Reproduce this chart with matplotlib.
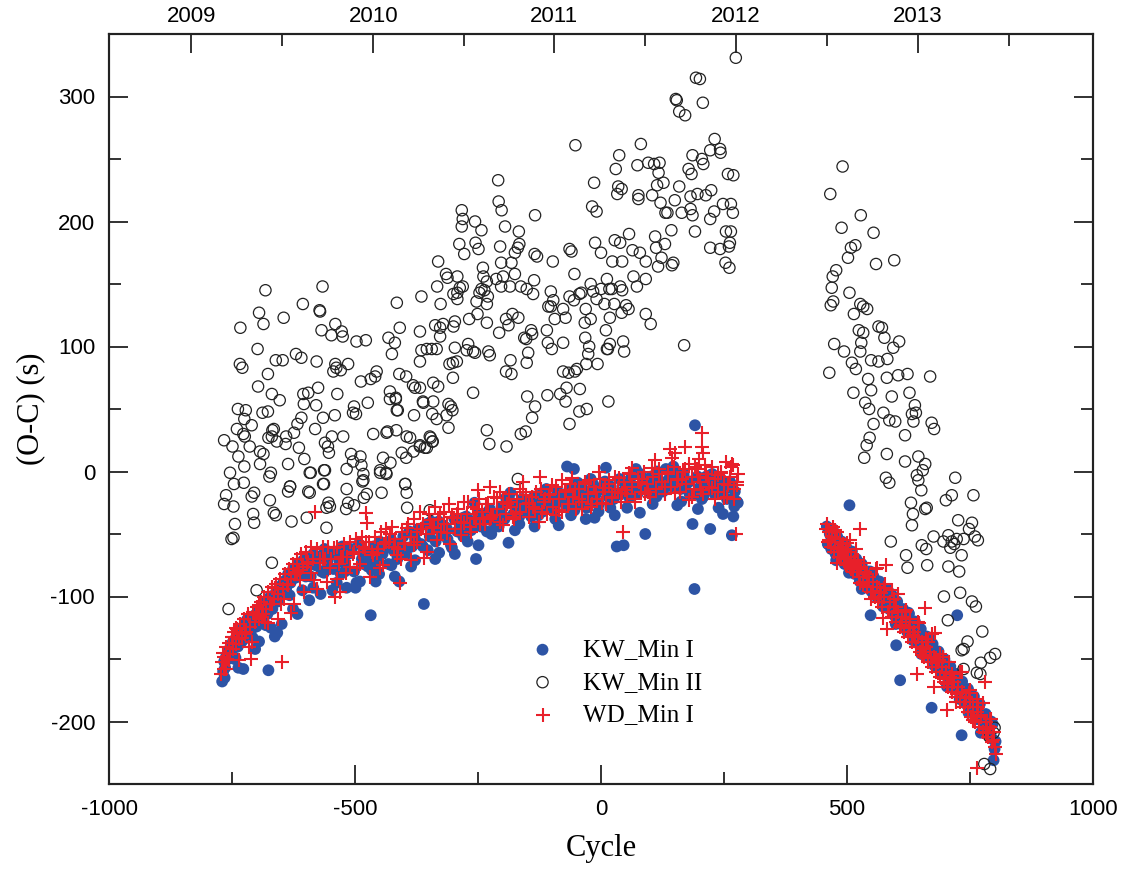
import numpy as np
import matplotlib
matplotlib.use("Agg")
import matplotlib.pyplot as plt
from matplotlib.ticker import MultipleLocator

plt.rcParams["axes.unicode_minus"] = False

# KW_Min I (filled blue dots), pairs of (cycle, O-C in s)
kw1_left = [
    (-770, -168), (-768, -160), (-766, -152), (-764, -157), (-762, -148), (-758, -150), (-755, -142),
    (-752, -146), (-748, -138), (-745, -150), (-742, -133), (-738, -140), (-735, -128), (-730, -136),
    (-727, -124), (-724, -131), (-720, -119), (-716, -128), (-712, -122), (-708, -133), (-704, -115),
    (-700, -124), (-697, -112), (-693, -118), (-690, -109), (-686, -121), (-682, -104), (-678, -114),
    (-676, -159), (-672, -100), (-668, -110), (-663, -132), (-660, -96), (-657, -104), (-653, -92),
    (-649, -99), (-645, -88), (-640, -94), (-636, -82), (-631, -89), (-626, -78), (-621, -85),
    (-616, -74), (-611, -81), (-605, -71), (-600, -78), (-595, -70), (-590, -84), (-585, -66),
    (-580, -75), (-574, -68), (-568, -80), (-562, -62), (-556, -72), (-550, -66), (-544, -78),
    (-538, -64), (-532, -71), (-526, -60), (-520, -74), (-517, -93), (-514, -66), (-508, -62),
    (-502, -80), (-497, -89), (-492, -58), (-486, -70), (-480, -64), (-474, -76), (-468, -115),
    (-462, -60), (-456, -72), (-450, -56), (-444, -66), (-438, -60), (-432, -74), (-426, -55),
    (-420, -64), (-414, -70), (-408, -58), (-402, -52), (-396, -66), (-390, -48), (-384, -60),
    (-378, -54), (-372, -46), (-366, -58), (-360, -106), (-354, -42), (-348, -52), (-342, -46),
    (-336, -56), (-330, -40), (-324, -50), (-318, -44), (-312, -54), (-303, -61), (-298, -38),
    (-292, -48), (-286, -42), (-280, -52), (-274, -36), (-268, -46), (-262, -40), (-254, -70),
    (-250, -34), (-244, -44), (-238, -38), (-232, -48), (-226, -30), (-220, -40), (-214, -34),
    (-208, -44), (-202, -28), (-196, -38), (-188, -57), (-184, -24), (-178, -34), (-172, -28),
    (-166, -36), (-160, -22), (-154, -30), (-148, -26), (-142, -36), (-136, -20), (-130, -28),
    (-124, -24), (-118, -32), (-112, -18), (-106, -26), (-100, -22), (-94, -30), (-88, -16),
    (-82, -24), (-76, -20), (-70, -28), (-69, 4), (-64, -14), (-58, -22), (-55, 2), (-52, -18),
    (-46, -26), (-40, -12), (-34, -20), (-31, -38), (-28, -16), (-22, -24), (-16, -10), (-10, -18),
    (-4, -26), (2, -14), (8, -8), (10, 3), (14, -20), (20, -12), (26, -22), (32, -60), (38, -6),
    (44, -16), (46, -59), (50, -10), (56, -20), (62, -4), (68, -12), (74, -18), (80, -2), (86, -10),
    (90, -50), (96, -16), (102, -4), (108, -12), (114, 0), (120, -8), (126, -16), (132, 2),
    (138, -6), (144, -12), (150, 0), (156, -8), (162, -14), (168, -2), (174, -10), (180, -18),
    (186, -42), (190, -94), (191, 37), (196, -4), (202, -12), (208, -20), (214, -6), (220, -14),
    (222, -46), (226, -2), (232, -10), (238, -18), (244, -6), (250, -14), (256, -22), (262, -8),
    (266, -51), (269, -36), (272, -16), (276, -24),
]
kw1_left_more = [
    (-765, -165), (-749, -137), (-737, -157), (-719, -133), (-703, -142), (-691, -112), (-671, -125),
    (-658, -129), (-641, -98), (-626, -110), (-607, -95), (-593, -103), (-577, -69), (-563, -81),
    (-546, -95), (-529, -82), (-515, -66), (-499, -93), (-483, -74), (-466, -79), (-451, -82),
    (-433, -60), (-419, -84), (-401, -65), (-386, -76), (-371, -47), (-352, -63), (-337, -70),
    (-321, -43), (-305, -59), (-289, -47), (-271, -56), (-257, -25), (-241, -37), (-223, -50),
    (-207, -37), (-193, -21), (-175, -47), (-158, -28), (-144, -33), (-127, -35), (-111, -14),
    (-93, -38), (-79, -21), (-61, -35), (-47, -9), (-29, -29), (-13, -37), (5, -12), (19, -29),
    (37, -18), (53, -29), (71, 2), (87, -11), (105, -26), (121, -13), (139, 1), (155, -27),
    (171, -11), (189, -18), (205, -22), (223, -3), (239, -29), (257, -13), (271, -28),
    (-759, -146), (-743, -149), (-727, -158), (-711, -127), (-695, -136), (-681, -123), (-664, -100),
    (-649, -122), (-633, -99), (-617, -114), (-600, -84), (-585, -93), (-570, -98), (-554, -77),
    (-537, -89), (-521, -80), (-507, -63), (-490, -88), (-474, -71), (-458, -88), (-442, -63),
    (-426, -75), (-410, -88), (-394, -61), (-378, -71), (-362, -60), (-345, -40), (-329, -65),
    (-313, -46), (-297, -66), (-280, -37), (-264, -47), (-249, -59), (-232, -33), (-215, -44),
    (-200, -35), (-184, -17), (-166, -42), (-151, -25), (-135, -44), (-119, -17), (-102, -29),
    (-86, -43), (-70, -18), (-54, -31), (-38, -23), (-21, -6), (-5, -32), (12, -15), (28, -35),
    (45, -8), (62, -20), (79, -33), (96, -7), (113, -20), (130, -12), (147, 4), (163, -24),
    (180, -8), (197, -30), (214, -4), (231, -18), (248, -34), (264, -10), (278, -25),
]
kw1_right = [
    (459, -44), (462, -58), (465, -50), (468, -62), (471, -46), (474, -55), (477, -66), (480, -52),
    (483, -60), (486, -70), (489, -56), (492, -64), (495, -74), (498, -60), (501, -68), (505, -27),
    (507, -78), (510, -64), (513, -72), (516, -82), (519, -70), (522, -78), (526, -88), (530, -74),
    (534, -84), (538, -92), (542, -80), (546, -88), (548, -115), (550, -96), (554, -84), (558, -92),
    (562, -100), (566, -88), (570, -98), (574, -106), (578, -94), (582, -102), (586, -110),
    (590, -98), (594, -108), (598, -116), (600, -139), (602, -104), (606, -112), (608, -167),
    (610, -122), (614, -110), (618, -120), (622, -128), (626, -114), (630, -124), (634, -132),
    (638, -120), (642, -130), (646, -138), (650, -126), (654, -136), (658, -144), (662, -132),
    (666, -142), (670, -150), (672, -189), (674, -138), (678, -148), (682, -156), (686, -144),
    (690, -154), (694, -162), (698, -150), (702, -160), (706, -168), (710, -156), (714, -166),
    (718, -174), (722, -162), (724, -115), (726, -172), (730, -180), (733, -211), (734, -168),
    (738, -178), (742, -186), (746, -174), (750, -184), (754, -192), (758, -180), (762, -190),
    (766, -198), (770, -186), (774, -196), (778, -204), (782, -194), (786, -204), (790, -212),
    (793, -200), (796, -214), (798, -231), (800, -222), (802, -216),
]
kw1_right_more = [
    (461, -58), (469, -49), (478, -71), (487, -65), (495, -58), (504, -81), (513, -79), (521, -74),
    (530, -94), (539, -87), (547, -80), (556, -99), (565, -94), (573, -108), (582, -94), (591, -111),
    (599, -122), (608, -111), (617, -123), (625, -113), (634, -135), (643, -126), (651, -146),
    (660, -139), (669, -133), (677, -155), (686, -155), (695, -151), (703, -172), (712, -167),
    (721, -162), (729, -182), (738, -177), (747, -193), (755, -180), (764, -198), (772, -209),
    (781, -198), (789, -209), (796, -202),
]

# KW_Min II (open circles)
kw2_left = [
    (274, 331), (193, 315), (201, 314), (154, 297), (152, 298), (207, 295), (159, 288), (171, 285),
    (-52, 261), (81, 262), (231, 266), (37, 253), (30, 242), (74, 245), (96, 247), (108, 246),
    (119, 247), (186, 253), (205, 250), (208, 246), (222, 257), (242, 258), (243, 255), (178, 242),
    (184, 238), (258, 238), (269, 237), (-209, 233), (-14, 231), (35, 228), (42, 226), (33, 222),
    (117, 239), (127, 231), (114, 229), (159, 228), (76, 221), (76, 218), (104, 221), (150, 217),
    (121, 215), (131, 207), (135, 207), (182, 220), (196, 222), (213, 221), (224, 225), (248, 214),
    (264, 214), (268, 207), (230, 208), (222, 202), (182, 210), (186, 205), (164, 207), (-18, 212),
    (-9, 208), (-283, 209), (-281, 202), (-283, 196), (-256, 200), (-243, 193), (-208, 216),
    (-202, 209), (-195, 196), (-134, 205), (-167, 192), (143, 193), (110, 188), (130, 182),
    (112, 179), (123, 171), (116, 164), (147, 167), (144, 165), (191, 192), (254, 192), (264, 192),
    (262, 183), (260, 180), (222, 179), (242, 178), (253, 167), (261, 163), (-288, 182), (-278, 174),
    (-255, 183), (-249, 178), (-205, 180), (-203, 167), (-182, 167), (-175, 158), (-166, 182),
    (-169, 179), (-175, 175), (-135, 174), (-130, 172), (-98, 168), (-64, 178), (-60, 176),
    (-12, 183), (0, 175), (23, 168), (43, 168), (28, 185), (39, 183), (57, 190), (64, 177),
    (79, 175), (91, 168), (-331, 168), (-315, 158), (-312, 155), (-292, 156), (-333, 148),
    (-240, 163), (-239, 156), (-232, 152), (-213, 154), (-199, 156), (-203, 148), (-185, 148),
    (-287, 147), (-281, 148), (-292, 143), (-300, 142), (-326, 134), (-292, 138), (-243, 146),
    (-237, 145), (-247, 143), (-230, 140), (-232, 134), (-253, 136), (-163, 148), (-151, 146),
    (-138, 142), (-136, 153), (-102, 144), (-97, 137), (-102, 132), (-64, 140), (-55, 137),
    (-44, 142), (-40, 143), (-54, 158), (-21, 150), (-16, 144), (0, 146), (12, 154), (17, 146),
    (22, 146), (27, 134), (39, 148), (43, 145), (66, 156), (73, 148), (91, 154), (51, 133),
    (56, 130), (42, 127), (7, 134), (-9, 138), (-31, 130), (-21, 122), (18, 123), (10, 113),
    (14, 98), (-77, 130), (-72, 123), (-94, 122), (-110, 113), (-108, 103), (-100, 98), (-77, 103),
    (-107, 132), (-33, 119), (-32, 107), (-24, 100), (-26, 94), (-30, 86), (-7, 86), (12, 98),
    (18, 102), (45, 104), (47, 96), (91, 126), (101, 118), (169, 101), (15, 56), (-77, 80),
    (-66, 79), (-53, 80), (-49, 82), (-83, 62), (-70, 67), (-43, 66), (-72, 56), (-109, 61),
    (-44, 48), (-29, 50), (-64, 38), (-150, 60), (-134, 52), (-140, 43), (-163, 30), (-153, 32),
    (-192, 20), (-227, 22), (-232, 33), (-260, 63), (-301, 75), (-341, 71), (-331, 68), (-368, 67),
    (-341, 56), (-361, 55), (-310, 54), (-305, 52), (-302, 49), (-314, 45), (-343, 46), (-334, 42),
    (-310, 35), (-348, 28), (-343, 24), (-358, 19), (-368, 21), (-193, 80), (-182, 78), (-184, 89),
    (-151, 87), (-148, 95), (-152, 106), (-156, 107), (-142, 113), (-140, 110), (-168, 123),
    (-180, 126), (-193, 122), (-188, 117), (-207, 111), (-232, 119), (-251, 126), (-268, 122),
    (-270, 102), (-273, 97), (-260, 96), (-256, 95), (-229, 96), (-226, 93), (-297, 99), (-301, 87),
    (-308, 86), (-293, 88), (-334, 98), (-344, 98), (-354, 98), (-365, 97), (-368, 88), (-337, 117),
    (-321, 118), (-327, 115), (-300, 116), (-297, 120), (-327, 108), (-368, 112), (-365, 140),
    (-682, 145), (-566, 148), (-606, 134), (-572, 129), (-571, 128), (-695, 127), (-686, 118),
    (-645, 123), (-733, 115), (-568, 113), (-548, 109), (-540, 118), (-527, 112), (-525, 108),
    (-497, 104), (-478, 105), (-415, 135), (-409, 115), (-419, 103), (-425, 94), (-432, 107),
    (-698, 98), (-734, 86), (-729, 83), (-677, 78), (-661, 89), (-647, 89), (-620, 94), (-609, 91),
    (-578, 88), (-540, 86), (-538, 83), (-544, 80), (-529, 81), (-514, 86), (-456, 80), (-459, 76),
    (-468, 74), (-488, 72), (-474, 55), (-410, 78), (-396, 76), (-429, 64), (-417, 59), (-415, 49),
    (-382, 69), (-378, 67), (-362, 56), (-697, 68), (-669, 62), (-653, 57), (-738, 50), (-722, 49),
    (-725, 42), (-710, 37), (-740, 34), (-688, 47), (-677, 48), (-766, 25), (-749, 20), (-737, 12),
    (-754, -1), (-746, -10), (-725, 4), (-726, -9), (-727, 30), (-724, 28), (-714, 20), (-693, 16),
    (-686, 14), (-676, 27), (-668, 33), (-665, 34), (-669, 28), (-693, 6), (-671, -1), (-674, -4),
    (-640, 28), (-641, 22), (-659, 24), (-624, 31), (-617, 38), (-609, 43), (-614, 19), (-636, 6),
    (-603, 10), (-590, -1), (-632, -12), (-605, 62), (-595, 63), (-579, 53), (-575, 67), (-604, 54),
    (-581, 34), (-565, 43), (-561, 23), (-553, 15), (-555, 20), (-547, 28), (-524, 28), (-541, 45),
    (-536, 62), (-502, 52), (-498, 46), (-504, 47), (-563, 1), (-563, -10), (-517, 2), (-508, 14),
    (-489, 12), (-487, 5), (-483, -7), (-504, 8), (-463, 30), (-443, 11), (-449, 1), (-437, -1),
    (-428, 7), (-434, 32), (-436, 31), (-416, 33), (-429, 58), (-417, 58), (-405, 15), (-396, 11),
    (-398, -10), (-413, 49), (-395, 28), (-388, 27), (-380, 45), (-381, 16), (-368, 20), (-354, 19),
    (-346, 27), (-342, 24), (-669, -73), (-700, -95), (-757, -110), (-747, -53), (-751, -54),
    (-744, -42), (-762, -19), (-766, -26), (-747, -28), (-707, -34), (-705, -41), (-673, -23),
    (-665, -33), (-661, -35), (-629, -40), (-598, -37), (-558, -45), (-710, -20), (-705, -17),
    (-636, -16), (-632, -12), (-592, -17), (-595, -16), (-565, -10), (-561, 1), (-592, -1),
    (-517, -14), (-514, -25), (-518, -30), (-502, -27), (-482, -21), (-476, -18), (-485, -8),
    (-483, -2), (-446, -17), (-449, -1), (-436, -2), (-398, -10), (-395, -17), (-394, -29),
    (-348, -31), (-554, -25), (-551, -28), (-558, -29), (-169, -6),
]
kw2_right = [
    (491, 244), (466, 222), (528, 205), (489, 195), (554, 191), (508, 179), (517, 181), (502, 171),
    (559, 166), (596, 169), (478, 161), (471, 156), (469, 147), (472, 136), (467, 133), (505, 143),
    (527, 134), (533, 132), (541, 130), (514, 126), (564, 116), (571, 115), (576, 107), (524, 113),
    (533, 111), (529, 103), (527, 96), (474, 102), (494, 96), (606, 104), (594, 99), (582, 90),
    (564, 88), (549, 89), (510, 87), (518, 82), (464, 79), (543, 74), (581, 75), (604, 77),
    (623, 78), (669, 76), (513, 63), (549, 65), (591, 60), (627, 63), (537, 55), (545, 50),
    (574, 47), (586, 41), (598, 40), (554, 38), (638, 53), (632, 46), (640, 47), (635, 40),
    (618, 29), (672, 39), (677, 34), (546, 27), (540, 21), (535, 11), (581, 14), (618, 8),
    (645, 12), (659, 6), (654, 1), (642, -3), (645, -7), (651, -15), (579, -5), (586, -9),
    (630, -25), (634, -34), (632, -43), (662, -29), (659, -30), (701, -23), (713, -19), (757, -19),
    (720, -5), (589, -56), (620, -67), (623, -77), (652, -59), (661, -62), (663, -75), (676, -52),
    (696, -56), (706, -51), (713, -56), (723, -54), (710, -61), (718, -58), (726, -39), (737, -54),
    (754, -41), (748, -46), (760, -52), (766, -55), (733, -67), (728, -80), (706, -76), (697, -100),
    (730, -97), (754, -104), (762, -108), (705, -119), (775, -128), (745, -136), (737, -142),
    (733, -143), (772, -153), (791, -149), (801, -146), (764, -161), (771, -162), (737, -158),
    (800, -205), (798, -209), (789, -212), (779, -234), (791, -238),
]

# WD_Min I (red plus)
wd_left = [
    (-772, -162), (-770, -152), (-768, -145), (-766, -158), (-763, -140), (-760, -150), (-757, -137),
    (-754, -146), (-751, -132), (-748, -142), (-745, -128), (-742, -138), (-739, -126), (-736, -134),
    (-733, -122), (-730, -130), (-726, -118), (-722, -128), (-718, -114), (-714, -124), (-711, -150),
    (-708, -112), (-704, -120), (-700, -108), (-696, -118), (-692, -104), (-688, -114), (-684, -100),
    (-680, -110), (-676, -96), (-672, -106), (-668, -92), (-664, -102), (-660, -90), (-656, -98),
    (-652, -86), (-649, -152), (-646, -94), (-642, -82), (-638, -90), (-634, -78), (-630, -86),
    (-626, -74), (-622, -82), (-618, -70), (-614, -79), (-610, -66), (-605, -76), (-600, -64),
    (-595, -72), (-590, -60), (-585, -70), (-581, -32), (-578, -62), (-572, -70), (-566, -60),
    (-560, -70), (-554, -60), (-548, -70), (-541, -100), (-536, -60), (-531, -96), (-528, -68),
    (-522, -58), (-516, -68), (-510, -56), (-504, -66), (-498, -54), (-492, -64), (-486, -52),
    (-480, -62), (-478, -33), (-476, -41), (-472, -56), (-466, -64), (-460, -52), (-454, -62),
    (-448, -48), (-442, -58), (-436, -46), (-430, -56), (-424, -44), (-418, -54), (-412, -62),
    (-409, -89), (-404, -48), (-398, -58), (-392, -42), (-386, -52), (-380, -38), (-374, -48),
    (-368, -32), (-362, -42), (-356, -50), (-350, -34), (-344, -44), (-338, -28), (-332, -38),
    (-326, -48), (-320, -32), (-314, -42), (-308, -26), (-302, -36), (-296, -46), (-290, -30),
    (-284, -40), (-278, -24), (-272, -34), (-266, -44), (-260, -28), (-254, -38), (-251, -15),
    (-248, -22), (-242, -32), (-236, -42), (-230, -26), (-226, -12), (-224, -36), (-218, -20),
    (-212, -30), (-206, -40), (-200, -24), (-194, -34), (-188, -18), (-182, -28), (-176, -38),
    (-170, -22), (-164, -32), (-158, -16), (-152, -26), (-146, -36), (-140, -20), (-134, -30),
    (-127, -40), (-122, -14), (-116, -24), (-110, -34), (-104, -18), (-98, -28), (-92, -12),
    (-86, -22), (-80, -32), (-74, -16), (-68, -26), (-62, -10), (-56, -20), (-50, -30), (-44, -14),
    (-38, -24), (-32, -8), (-26, -18), (-20, -28), (-14, -12), (-8, -22), (-2, -6), (4, -16),
    (10, -26), (16, -10), (22, -20), (28, -4), (34, -14), (40, -24), (44, -48), (46, -8), (52, -18),
    (58, -2), (64, -12), (70, -22), (76, -6), (82, -16), (88, 0), (94, -10), (100, -20), (106, -4),
    (112, -14), (118, 2), (124, -8), (130, -18), (136, -2), (140, 18), (142, -12), (148, 4),
    (150, 15), (154, -6), (160, -16), (166, 0), (170, 20), (172, -10), (178, 6), (184, -4),
    (190, -14), (196, 2), (200, 10), (202, -8), (206, 31), (206, 20), (207, 15), (208, -18),
    (214, -2), (220, -12), (226, 4), (232, -6), (238, -16), (244, 0), (250, -10), (254, 8),
    (256, -20), (262, -4), (266, 6), (269, 5), (270, -14), (274, -50), (276, -8), (278, -2),
]
wd_left_more = [
    (-767, -148), (-756, -151), (-741, -125), (-729, -133), (-716, -140), (-702, -115), (-689, -116),
    (-676, -121), (-662, -93), (-651, -106), (-637, -91), (-623, -106), (-611, -87), (-597, -74),
    (-583, -87), (-571, -73), (-557, -88), (-543, -61), (-532, -74), (-518, -81), (-503, -64),
    (-489, -74), (-477, -56), (-463, -67), (-449, -77), (-436, -56), (-421, -60), (-407, -70),
    (-394, -45), (-380, -59), (-366, -46), (-354, -64), (-340, -45), (-327, -34), (-312, -49),
    (-299, -37), (-285, -51), (-270, -24), (-258, -37), (-245, -42), (-233, -26), (-219, -35),
    (-205, -16), (-192, -26), (-179, -36), (-165, -14), (-152, -19), (-139, -28), (-125, -4),
    (-113, -22), (-99, -11), (-85, -31), (-72, -15), (-58, -5), (-45, -22), (-32, -10), (-18, -26),
    (-4, 0), (9, -13), (23, -21), (36, -5), (49, -15), (63, 3), (77, -8), (90, -18), (103, 3),
    (117, -2), (131, -12), (144, 11), (157, -7), (171, 2), (185, -20), (198, -4), (211, 5),
    (225, -13), (238, -3), (251, -21), (265, 4), (277, -11),
    (-763, -158), (-748, -132), (-735, -151), (-723, -130), (-709, -136), (-696, -107), (-683, -120),
    (-669, -106), (-656, -118), (-644, -102), (-631, -113), (-617, -80), (-604, -96), (-590, -81),
    (-577, -94), (-565, -70), (-550, -77), (-537, -86), (-525, -68), (-511, -76), (-496, -77),
    (-483, -60), (-470, -84), (-456, -65), (-443, -75), (-429, -50), (-414, -67), (-401, -57),
    (-387, -71), (-373, -56), (-360, -69), (-347, -39), (-333, -55), (-320, -42), (-306, -58),
    (-292, -34), (-278, -41), (-264, -48), (-252, -30), (-239, -38), (-226, -38), (-212, -21),
    (-199, -43), (-186, -24), (-172, -34), (-159, -8), (-146, -25), (-132, -16), (-119, -32),
    (-106, -19), (-92, -35), (-79, -7), (-65, -26), (-52, -14), (-38, -30), (-25, -7), (-11, -16),
    (3, -25), (16, -7), (29, -16), (43, -17), (56, -1), (70, -24), (83, -6), (96, -16), (110, 9),
    (124, -8), (137, 0), (150, -17), (164, -6), (178, -23), (191, 4), (204, -15), (218, -5),
    (231, -22), (244, -1), (258, -11), (271, -22),
]
wd_right = [
    (458, -46), (461, -56), (464, -48), (467, -60), (470, -52), (473, -64), (476, -56), (479, -48),
    (482, -62), (485, -54), (488, -68), (491, -58), (494, -70), (497, -62), (500, -74), (503, -64),
    (506, -76), (509, -68), (512, -80), (515, -72), (518, -62), (521, -78), (524, -84), (527, -46),
    (528, -76), (532, -88), (536, -80), (540, -92), (544, -84), (548, -96), (552, -88), (556, -100),
    (560, -92), (564, -104), (568, -96), (572, -108), (574, -117), (576, -100), (580, -75),
    (582, -126), (584, -112), (588, -104), (592, -116), (596, -108), (600, -120), (604, -112),
    (608, -124), (612, -116), (616, -128), (620, -120), (624, -132), (628, -124), (632, -136),
    (636, -128), (640, -140), (643, -162), (645, -132), (649, -144), (653, -136), (657, -148),
    (658, -109), (661, -140), (665, -152), (669, -144), (673, -156), (676, -172), (677, -148),
    (681, -160), (685, -152), (689, -164), (693, -156), (697, -168), (701, -160), (703, -191),
    (705, -172), (709, -164), (713, -176), (717, -168), (721, -180), (725, -172), (729, -184),
    (733, -176), (737, -188), (741, -180), (745, -192), (749, -184), (753, -196), (757, -188),
    (761, -200), (764, -237), (765, -192), (769, -204), (773, -196), (777, -208), (781, -168),
    (782, -200), (786, -212), (790, -204), (794, -216), (797, -208), (800, -220), (802, -226),
]
wd_right_more = [
    (460, -42), (466, -56), (475, -47), (483, -68), (492, -63), (500, -57), (509, -78), (517, -71),
    (526, -89), (535, -73), (543, -84), (552, -96), (560, -77), (569, -97), (578, -90), (586, -112),
    (595, -102), (603, -98), (612, -120), (620, -111), (629, -118), (638, -132), (646, -121),
    (655, -142), (664, -136), (672, -130), (681, -152), (690, -146), (698, -166), (707, -152),
    (716, -165), (724, -178), (733, -160), (742, -181), (750, -175), (759, -199), (767, -188),
    (776, -185), (785, -206), (792, -198), (799, -208),
    (463, -55), (471, -44), (480, -73), (489, -60), (497, -75), (506, -55), (514, -75), (523, -71),
    (532, -91), (540, -82), (549, -102), (558, -78), (566, -100), (575, -93), (583, -112),
    (592, -95), (600, -108), (609, -123), (618, -112), (626, -125), (635, -131), (644, -120),
    (652, -147), (661, -134), (670, -149), (678, -129), (687, -151), (696, -148), (704, -170),
    (713, -162), (722, -184), (730, -160), (739, -184), (748, -177), (756, -199), (765, -182),
    (773, -195), (782, -209), (790, -198), (797, -215),
]

# top axis: calendar years placed at the cycle they fall on
year_labels = ["2009", "2010", "2011", "2012", "2013"]
year_cycles = [-833, -463, -95, 274, 644]

blue = "#2d54a5"
red = "#e8202a"
serif = "Liberation Serif"
sans = "Liberation Sans"

kw1 = np.array(kw1_left + kw1_left_more + kw1_right + kw1_right_more)
kw2 = np.array(kw2_left + kw2_right)
wd = np.array(wd_left + wd_left_more + wd_right + wd_right_more)

fig = plt.figure(figsize=(11.26, 8.73), dpi=100)
ax = fig.add_axes([109 / 1126, 89 / 873, 984 / 1126, 750 / 873])

ax.scatter(kw1[:, 0], kw1[:, 1], s=72, color=blue, edgecolors="none", label="KW_Min I", zorder=2)
ax.scatter(kw2[:, 0], kw2[:, 1], s=66, facecolors="none", edgecolors="#222222", linewidths=0.9,
           label="KW_Min II", zorder=3)
ax.scatter(wd[:, 0], wd[:, 1], s=110, marker="+", color=red, linewidths=1.5, label="WD_Min I", zorder=4)

ax.set_xlim(-1000, 1000)
ax.set_ylim(-250, 350)
ax.xaxis.set_major_locator(MultipleLocator(500))
ax.xaxis.set_minor_locator(MultipleLocator(250))
ax.yaxis.set_major_locator(MultipleLocator(100))
ax.yaxis.set_minor_locator(MultipleLocator(50))
ax.tick_params(which="both", direction="in", top=False, right=True, width=1.3, colors="#222222")
ax.tick_params(which="major", length=14)
ax.tick_params(which="minor", length=8.5)
ax.tick_params(axis="y", pad=10, labelsize=16, labelcolor="black")
ax.tick_params(axis="x", pad=11, labelsize=16, labelcolor="black")
for lab in ax.get_xticklabels() + ax.get_yticklabels():
    lab.set_fontfamily(sans)
for sp in ax.spines.values():
    sp.set_linewidth(1.5)
    sp.set_color("#222222")

ax.set_xlabel("Cycle", fontfamily=serif, fontsize=22, labelpad=10)
ax.set_ylabel("(O-C) (s)", fontfamily=serif, fontsize=22, labelpad=4)

# top axis with years
ax2 = ax.twiny()
ax2.set_xlim(ax.get_xlim())
ax2.set_xticks(year_cycles)
ax2.set_xticklabels(year_labels, fontfamily=sans, fontsize=16)
half = [(a + b) / 2 for a, b in zip(year_cycles[:-1], year_cycles[1:])]
half.append(year_cycles[-1] + (year_cycles[-1] - year_cycles[-2]) / 2)
ax2.set_xticks(half, minor=True)
ax2.tick_params(which="both", direction="in", width=1.3, colors="#222222", pad=5, labelcolor="black")
ax2.tick_params(which="major", length=14)
ax2.tick_params(which="minor", length=8.5)
for sp in ax2.spines.values():
    sp.set_linewidth(1.5)
    sp.set_color("#222222")

leg = ax.legend(loc="upper left", bbox_to_anchor=(0.405, 0.207), frameon=False,
                prop={"family": serif, "size": 18}, handletextpad=0.6, labelspacing=0.4,
                borderaxespad=0)

fig.savefig("out.png", dpi=100)
